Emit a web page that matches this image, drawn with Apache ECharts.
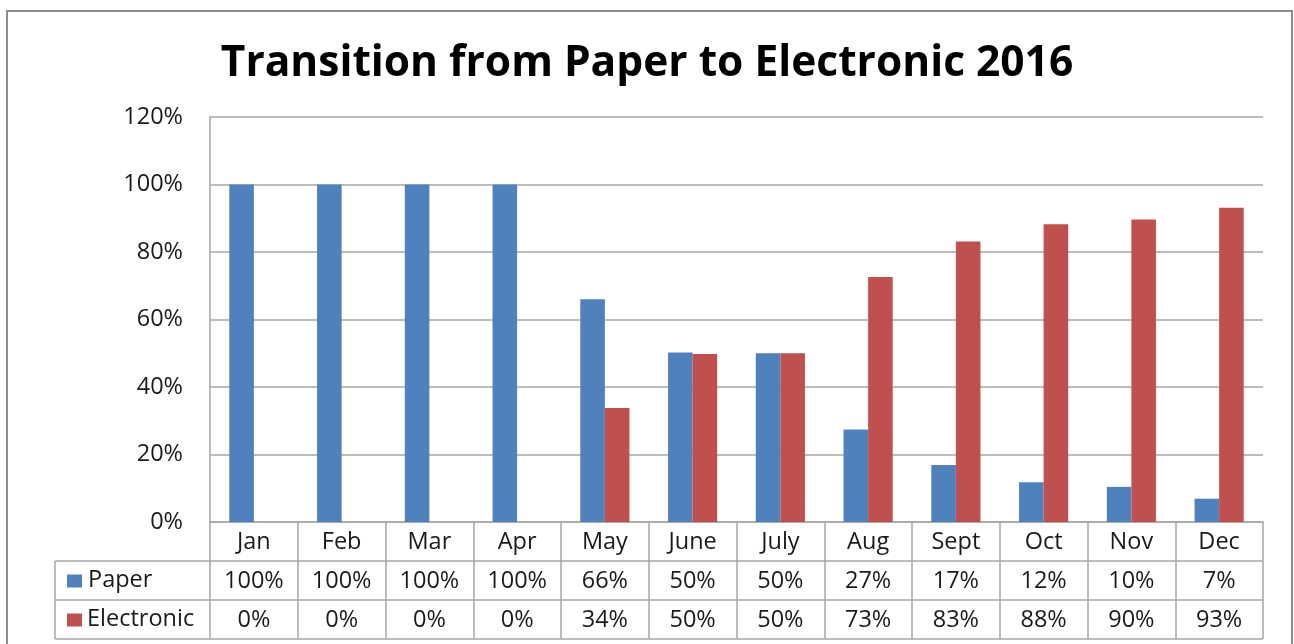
<!DOCTYPE html>
<html>
<head>
<meta charset="utf-8">
<script src="https://cdn.jsdelivr.net/npm/echarts@6/dist/echarts.min.js"></script>
<style>
html,body{margin:0;padding:0;background:#fff;}
#chart{width:1294px;height:644px;}
</style>
</head>
<body>
<div id="chart"></div>
<script>
const categories = ['Jan','Feb','Mar','Apr','May','June','July','Aug','Sept','Oct','Nov','Dec'];
const paperValues = [100,100,100,100,66,50.2,50,27.4,16.9,11.8,10.4,6.9];
const electronicValues = [0,0,0,0,33.8,49.8,50,72.6,83.1,88.2,89.6,93.1];
const paperLabels = ['100%','100%','100%','100%','66%','50%','50%','27%','17%','12%','10%','7%'];
const electronicLabels = ['0%','0%','0%','0%','34%','50%','50%','73%','83%','88%','90%','93%'];
const seriesNames = ['Paper','Electronic'];
const yTicks = [0,20,40,60,80,100,120];

const FONT = 'Open Sans';
const FS = 23.5;
const BLUE = '#4f81bd', RED = '#c0504d';
const GRID_L = 210, GRID_R = 1263, GRID_T = 117, GRID_B = 522;
const ROW = 39;
const TABLE_L = 55;
const LINE = '#a6a6a6';
const TXT = '#1a1a1a';

const chart = echarts.init(document.getElementById('chart'));

function tableAxis(idx, labels, offset) {
  return {
    type: 'category',
    data: categories,
    position: 'bottom',
    offset: offset,
    axisLine: {show: idx === 0, lineStyle: {color: LINE, width: 1.5}},
    axisTick: idx === 0 ? {show: true, length: ROW * 3, interval: 0, lineStyle: {color: LINE, width: 1.5}} : {show: false},
    axisLabel: {
      interval: 0, margin: 20, verticalAlign: 'middle',
      fontFamily: FONT, fontSize: FS, color: TXT,
      formatter: labels ? function (v, i) { return labels[i]; } : undefined
    },
    splitLine: {show: false}
  };
}

const option = {
  backgroundColor: '#fff',
  animation: false,
  title: {
    text: 'Transition from Paper to Electronic 2016',
    left: 'center', top: 37,
    textStyle: {fontFamily: FONT, fontSize: 42.5, fontWeight: 'bold', color: '#000'}
  },
  grid: {left: GRID_L, right: 1294 - GRID_R, top: GRID_T, bottom: 644 - GRID_B, containLabel: false, outerBoundsMode: 'none'},
  xAxis: [
    tableAxis(0, null, 0),
    tableAxis(1, paperLabels, ROW),
    tableAxis(2, electronicLabels, ROW * 2)
  ],
  yAxis: {
    type: 'value', min: yTicks[0], max: yTicks[yTicks.length - 1], interval: 20,
    axisLine: {show: true, lineStyle: {color: LINE, width: 1.5}},
    axisTick: {show: false},
    axisLabel: {formatter: '{value}%', margin: 27, fontFamily: FONT, fontSize: FS, color: TXT},
    splitLine: {lineStyle: {color: LINE, width: 1.5}}
  },
  series: [
    {name: seriesNames[0], type: 'bar', data: paperValues, itemStyle: {color: BLUE}, barGap: '0%', barCategoryGap: '44%'},
    {name: seriesNames[1], type: 'bar', data: electronicValues, itemStyle: {color: RED}, barGap: '0%', barCategoryGap: '44%'}
  ],
  graphic: [
    {type: 'rect', shape: {x: 7, y: 11, width: 1285, height: 700}, style: {fill: null, stroke: '#8c8c8c', lineWidth: 2}, silent: true},
    {type: 'line', shape: {x1: TABLE_L, y1: GRID_B + ROW, x2: GRID_R, y2: GRID_B + ROW}, style: {stroke: LINE, lineWidth: 1.5}},
    {type: 'line', shape: {x1: TABLE_L, y1: GRID_B + ROW * 2, x2: GRID_R, y2: GRID_B + ROW * 2}, style: {stroke: LINE, lineWidth: 1.5}},
    {type: 'line', shape: {x1: TABLE_L, y1: GRID_B + ROW * 3, x2: GRID_R, y2: GRID_B + ROW * 3}, style: {stroke: LINE, lineWidth: 1.5}},
    {type: 'line', shape: {x1: TABLE_L, y1: GRID_B + ROW, x2: TABLE_L, y2: GRID_B + ROW * 3}, style: {stroke: LINE, lineWidth: 1.5}},
    {type: 'rect', shape: {x: 67, y: GRID_B + ROW * 1.5 - 6, width: 15, height: 13}, style: {fill: BLUE}},
    {type: 'rect', shape: {x: 67, y: GRID_B + ROW * 2.5 - 6, width: 15, height: 13}, style: {fill: RED}},
    {type: 'text', x: 88, y: GRID_B + ROW * 1.5, style: {text: seriesNames[0], font: FS + 'px "Open Sans"', fill: TXT, verticalAlign: 'middle'}},
    {type: 'text', x: 87, y: GRID_B + ROW * 2.5, style: {text: seriesNames[1], font: FS + 'px "Open Sans"', fill: TXT, verticalAlign: 'middle'}}
  ]
};
chart.setOption(option);
</script>
</body>
</html>
